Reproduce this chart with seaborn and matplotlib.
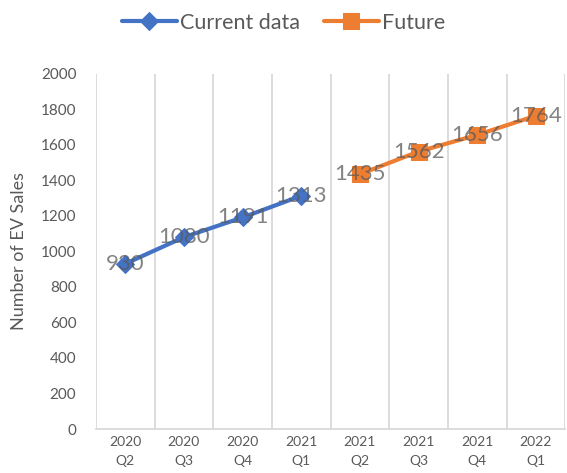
import numpy as np
import pandas as pd
import seaborn as sns
import matplotlib.pyplot as plt

# datos
quarters = ['2020\nQ2', '2020\nQ3', '2020\nQ4', '2021\nQ1',
            '2021\nQ2', '2021\nQ3', '2021\nQ4', '2022\nQ1']
current_sales = [930, 1080, 1191, 1313]
future_sales = [1435, 1562, 1656, 1764]

df = pd.DataFrame({
    'quarter': quarters,
    'pos': np.arange(len(quarters)),
    'sales': current_sales + future_sales,
    'serie': ['Current data'] * len(current_sales) + ['Future'] * len(future_sales),
})

sns.set_style('white')
plt.rcParams['font.family'] = ['Lato', 'DejaVu Sans']

blue = '#4472C4'
orange = '#ED7D31'
gray = '#595959'

fig = plt.figure(figsize=(5.67, 4.73), dpi=100)
ax = fig.add_axes([0.169, 0.093, 0.828, 0.751])

sns.lineplot(data=df[df['serie'] == 'Current data'], x='pos', y='sales', ax=ax,
             color=blue, linewidth=3, marker='D', markersize=9.5,
             markeredgecolor=blue, label='Current data', zorder=3)
sns.lineplot(data=df[df['serie'] == 'Future'], x='pos', y='sales', ax=ax,
             color=orange, linewidth=3, marker='s', markersize=11.5,
             markeredgecolor=orange, label='Future', zorder=3)

# etiquetas de datos centradas sobre los puntos
for x, y in zip(df['pos'], df['sales']):
    ax.text(x, y, str(y), ha='center', va='center', fontsize=16,
            color=gray, alpha=0.75, zorder=4)

ax.set_xlim(-0.5, len(quarters) - 0.5)
ax.set_ylim(0, 2000)
ax.set_yticks(range(0, 2001, 200))
ax.set_xticks(df['pos'])
ax.set_xticklabels(quarters, fontsize=10, color=gray, linespacing=1.75)
ax.tick_params(axis='y', labelsize=11, colors=gray, length=0, pad=14)
ax.tick_params(axis='x', length=0, pad=5)

# lineas verticales entre categorias
for b in np.arange(-0.5, len(quarters), 1):
    ax.axvline(b, color='#D9D9D9', linewidth=1.3, zorder=1)

for s in ['top', 'right', 'left']:
    ax.spines[s].set_visible(False)
ax.spines['bottom'].set_color('#D9D9D9')
ax.spines['bottom'].set_linewidth(1.3)

ax.set_xlabel('')
ax.set_ylabel('Number of EV Sales', fontsize=13, color=gray, labelpad=10)

ax.legend(loc='center', bbox_to_anchor=(0.4, 1.144), ncol=2,
          frameon=False, fontsize=15.5, handlelength=2.55, handletextpad=0.15,
          columnspacing=1.1, labelcolor=gray)

fig.savefig('out.png', dpi=100)
